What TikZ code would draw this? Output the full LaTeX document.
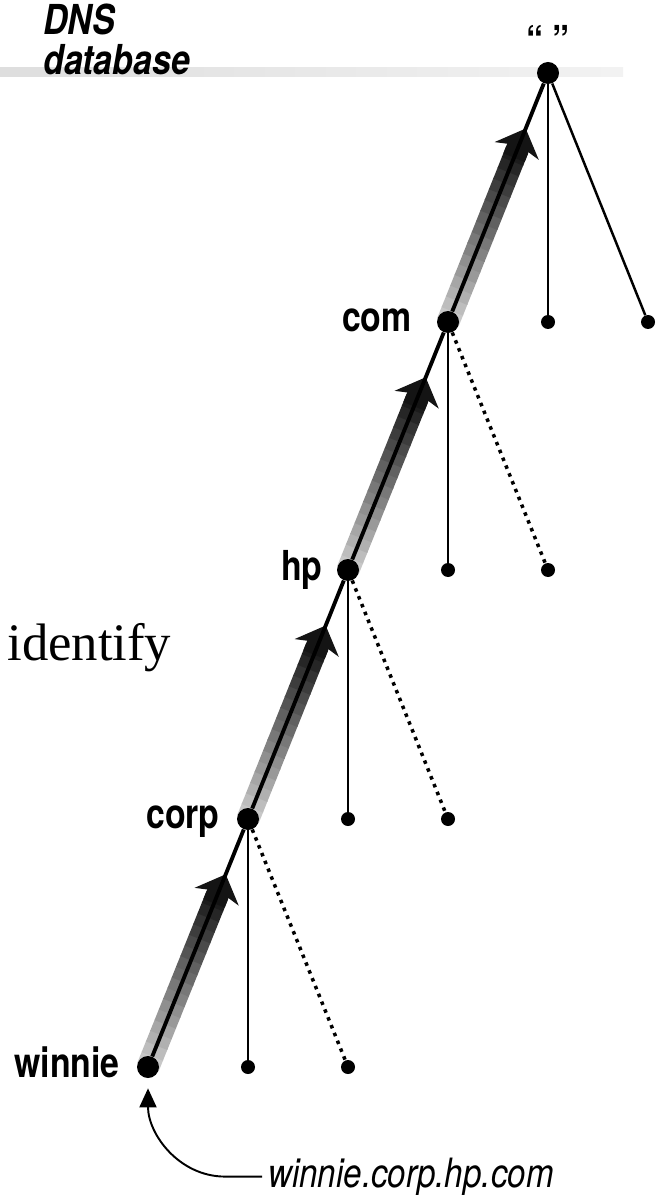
\documentclass[tikz,border=0pt]{standalone}
\usepackage{fontspec}
\setmainfont{Liberation Serif}
\newfontfamily\condfont[FakeStretch=0.82]{TeX Gyre Heros}
\usetikzlibrary{calc,arrows.meta,backgrounds,positioning}

\begin{document}
\begin{tikzpicture}[x=0.02cm, y=-0.02cm,
        dot/.style={circle, fill=black, inner sep=0pt, minimum size=0.44cm},
        leaf/.style={circle, fill=black, inner sep=0pt, minimum size=0.28cm},
        lbl/.style={font=\condfont\bfseries\fontsize{23.5}{26}\selectfont, anchor=base east, inner sep=0pt},
        heading/.style={font=\condfont\bfseries\itshape\fontsize{23.5}{26}\selectfont, anchor=base west, inner sep=0pt},
        trunk/.style={line width=2.2pt},
        twig/.style={line width=1.4pt},
        ghost/.style={line width=2pt, dash pattern=on 2pt off 2.8pt},
        band/.style={line width=0.46cm}]

        \useasboundingbox (0,0) rectangle (663,1195);

        % Heading and its gray rule
        \shade[left color=black!13, right color=black!5] (0,68) rectangle (623,77);
        \node[heading] (dns) at (43,35) {DNS};
        \node[heading] (db) at (43,75) {database};

        % Domain nodes on the path
        \node[dot] (root) at (548,73) {};
        \node[dot] (com) at (448,322) {};
        \node[dot] (hp) at (348,570) {};
        \node[dot] (corp) at (248,819) {};
        \node[dot] (winnie) at (148,1067) {};

        % Other children
        \foreach \p/\x/\y in {rootA/548/322, rootB/648/322, comA/448/570, comB/548/570,
                              hpA/348/819, hpB/448/819, corpA/248/1067, corpB/348/1067}
            \node[leaf] (\p) at (\x,\y) {};

        % Labels
        \node[font=\condfont\bfseries\fontsize{23.5}{26}\selectfont] (rootlbl) at (548,40) {“ ”};
        \node[lbl] (comlbl) at ($(com)+(-36,10)$) {com};
        \node[lbl] (hplbl) at ($(hp)+(-25,10)$) {hp};
        \node[lbl] (corplbl) at ($(corp)+(-28,9)$) {corp};
        \node[lbl] (winnielbl) at ($(winnie)+(-28,10)$) {winnie};
        \node[font=\fontsize{30}{36}\selectfont, anchor=base west, inner sep=0pt] (verb) at (7,660) {identify};

        % Shaded arrows going up the tree
        \begin{pgfonlayer}{background}
            \foreach \a/\b in {winnie/corp, corp/hp, hp/com, com/root} {
                \foreach \i [evaluate=\i as \c using int(22+4.5*\i)] in {0,...,15}
                    \draw[band, black!\c] ($(\a)!\i*0.043!(\b)$) -- ($(\a)!\i*0.043+0.046!(\b)$);
                \draw[band, black!92, -{Stealth[length=0.48cm, width=0.94cm, inset=0.12cm]}]
                    ($(\a)!0.66!(\b)$) -- ($(\a)!0.777!(\b)$);
            }
        \end{pgfonlayer}

        % Edges
        \draw[trunk] (winnie) -- (corp) -- (hp) -- (com) -- (root);
        \draw[twig] (root) -- (rootA);
        \draw[twig] (root) -- (rootB);
        \foreach \p/\s/\d in {com/comA/comB, hp/hpA/hpB, corp/corpA/corpB} {
            \draw[twig] (\p) -- (\s);
            \draw[ghost] (\p) -- (\d);
        }

        % Full name pointing at the leaf
        \node[font=\condfont\itshape\fontsize{23}{26}\selectfont, anchor=base west] (addr) at (262,1187) {winnie.corp.hp.com};
        \draw[line width=1.1pt, -{Triangle[length=0.38cm, width=0.34cm]}]
            (addr.west) -- ++(-37,0) to[out=180, in=-90] ([yshift=-0.2cm]winnie.south);
    \end{tikzpicture}
\end{document}
